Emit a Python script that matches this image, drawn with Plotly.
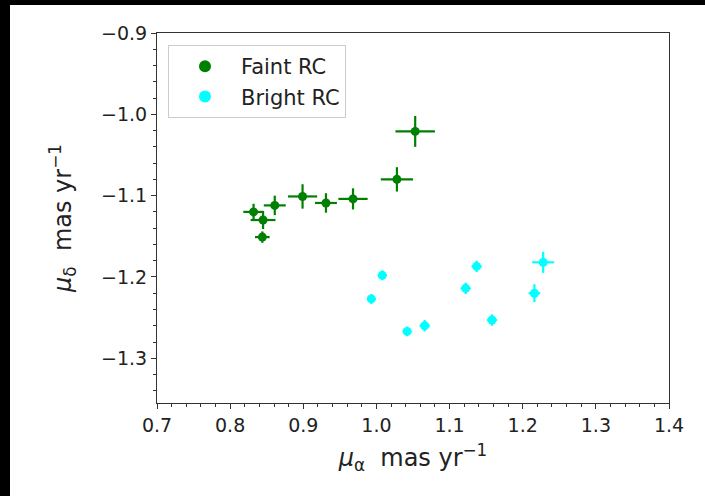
import plotly.graph_objects as go

# Faint RC
faint_x = [0.832, 0.845, 0.844, 0.861, 0.899, 0.931, 0.968, 1.028, 1.053]
faint_y = [-1.120, -1.130, -1.151, -1.112, -1.101, -1.109, -1.104, -1.080, -1.021]
faint_ex = [0.014, 0.017, 0.010, 0.015, 0.020, 0.015, 0.020, 0.022, 0.027]
faint_ey = [0.010, 0.011, 0.007, 0.012, 0.015, 0.012, 0.013, 0.015, 0.019]

# Bright RC
bright_x = [1.008, 0.993, 1.042, 1.066, 1.122, 1.137, 1.158, 1.216, 1.228]
bright_y = [-1.198, -1.227, -1.267, -1.260, -1.214, -1.187, -1.253, -1.220, -1.182]
bright_ex = [0.006, 0.006, 0.006, 0.007, 0.007, 0.007, 0.007, 0.008, 0.015]
bright_ey = [0.006, 0.006, 0.006, 0.007, 0.007, 0.007, 0.007, 0.011, 0.013]

x_ticks = [0.7, 0.8, 0.9, 1.0, 1.1, 1.2, 1.3, 1.4]
y_ticks = [-0.9, -1.0, -1.1, -1.2, -1.3]

L, R, T, B = 157, 36, 33, 93
W, H = 705, 496
pw, ph = W - L - R, H - T - B

fig = go.Figure()
for name, xs, ys, ex, ey, col in [
    ("Faint RC", faint_x, faint_y, faint_ex, faint_ey, "#008000"),
    ("Bright RC", bright_x, bright_y, bright_ex, bright_ey, "#00FFFF"),
]:
    fig.add_trace(go.Scatter(
        x=xs, y=ys, mode="markers", name=name,
        marker=dict(color=col, size=9, symbol="circle"),
        error_x=dict(type="data", array=ex, visible=True, color=col, thickness=2.2, width=0),
        error_y=dict(type="data", array=ey, visible=True, color=col, thickness=2.2, width=0),
    ))

axis_common = dict(
    showline=True, linecolor="#333333", linewidth=1, mirror=True,
    ticks="outside", ticklen=5, tickwidth=1, tickcolor="#333333",
    showgrid=False, zeroline=False,
    tickfont=dict(family="DejaVu Sans", size=19, color="#222222"),
)

fig.update_xaxes(
    range=[0.7, 1.4], tickvals=x_ticks, ticktext=[f"{v:.1f}" for v in x_ticks],
    minor=dict(dtick=0.02, tick0=0.7, ticks="outside", ticklen=3, tickcolor="#333333", showgrid=False),
    title=dict(text="<i>μ</i><sub>α</sub>  mas yr<sup>−1</sup>", font=dict(family="DejaVu Sans", size=24, color="#222222"), standoff=14),
    **axis_common,
)
fig.update_yaxes(
    range=[-1.355, -0.9], tickvals=y_ticks, ticktext=["−0.9", "−1.0", "−1.1", "−1.2", "−1.3"],
    minor=dict(dtick=0.02, tick0=-0.9, ticks="outside", ticklen=3, tickcolor="#333333", showgrid=False),
    title=dict(text="<i>μ</i><sub>δ</sub>  mas yr<sup>−1</sup>", font=dict(family="DejaVu Sans", size=24, color="#222222"), standoff=22),
    **axis_common,
)

fig.update_layout(
    width=W, height=H,
    margin=dict(l=L, r=R, t=T, b=B),
    paper_bgcolor="white", plot_bgcolor="white",
    showlegend=True,
    legend=dict(
        x=(168 - L) / pw, y=1 - (45 - T) / ph, xanchor="left", yanchor="top",
        bgcolor="white", bordercolor="#cccccc", borderwidth=1,
        font=dict(family="DejaVu Sans", size=21, color="#222222"),
        itemsizing="constant", itemwidth=62, tracegroupgap=0,
    ),
    shapes=[
        dict(type="rect", xref="paper", yref="paper", layer="above",
             x0=-L / pw - 0.02, x1=1 + R / pw + 0.02, y0=1 + (T - 5) / ph, y1=1 + T / ph + 0.02,
             fillcolor="black", line=dict(width=0)),
        dict(type="rect", xref="paper", yref="paper", layer="above",
             x0=-L / pw - 0.02, x1=-(L - 10) / pw, y0=-B / ph - 0.02, y1=1 + T / ph + 0.02,
             fillcolor="black", line=dict(width=0)),
    ],
)

fig.write_html("out.html")
